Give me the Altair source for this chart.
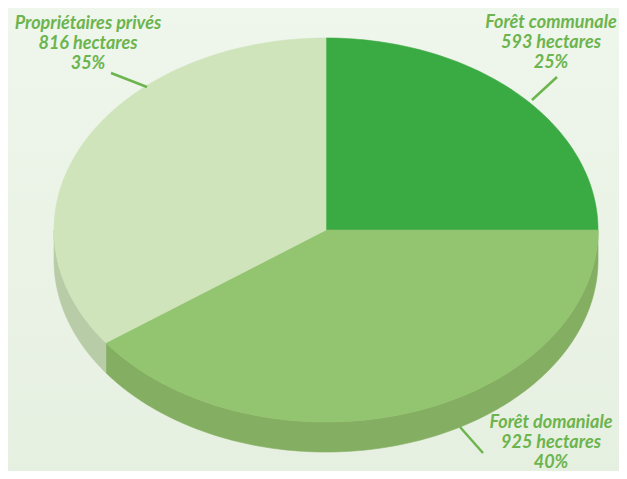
import math
import altair as alt
import pandas as pd

# ---- data ----
categories = ["Forêt communale", "Forêt domaniale", "Propriétaires privés"]
hectares = [593, 925, 816]
percents = [25, 40, 35]
top_colors = ["#3aaa42", "#93c46f", "#cfe4bb"]
side_colors = ["#2f8a36", "#84ae62", "#b8cca8"]

# label layout (page pixel coordinates)
label_x = [551, 551, 88]
label_y = [28, 428, 29]
leader_x1 = [557, 460, 111]
leader_y1 = [77, 427, 73]
leader_x2 = [532, 483, 147]
leader_y2 = [100, 453, 87]

# ---- geometry of the tilted pie ----
CX, CY, RX, RY, DEPTH = 326, 230, 272, 192, 30
W, H = 611, 463


def pt(theta_deg, dy=0.0):
    t = math.radians(theta_deg)
    return CX + RX * math.sin(t), CY - RY * math.cos(t) + dy


def arc(a, b, dy=0.0):
    n = max(2, int(abs(b - a)) + 1)
    return [pt(a + (b - a) * k / (n - 1), dy) for k in range(n)]


total = sum(percents)
bounds = [0.0]
for p in percents:
    bounds.append(bounds[-1] + 360.0 * p / total)

top_rows, wall_rows = [], []
for i, cat in enumerate(categories):
    a, b = bounds[i], bounds[i + 1]
    poly = [(CX, CY)] + arc(a, b) + [(CX, CY)]
    for k, (x, y) in enumerate(poly):
        top_rows.append({"key": cat, "i": k, "x": x, "y": y, "c": top_colors[i]})
    fa, fb = max(a, 90.0), min(b, 270.0)
    if fb > fa:
        poly = arc(fa, fb) + arc(fb, fa, DEPTH)
        poly.append(poly[0])
        for k, (x, y) in enumerate(poly):
            wall_rows.append({"key": cat, "i": k, "x": x, "y": y, "c": side_colors[i]})

top_df = pd.DataFrame(top_rows)
wall_df = pd.DataFrame(wall_rows)

labels_df = pd.DataFrame({
    "txt": [f"{c}\n{h} hectares\n{p}%" for c, h, p in zip(categories, hectares, percents)],
    "x": label_x, "y": label_y,
})
leaders_df = pd.DataFrame({"x": leader_x1, "y": leader_y1, "x2": leader_x2, "y2": leader_y2})

xs = alt.Scale(domain=[8, 8 + W], nice=False, zero=False)
ys = alt.Scale(domain=[8, 8 + H], nice=False, zero=False, reverse=True)

bg = alt.Chart(pd.DataFrame({"a": [0]})).mark_rect(
    color=alt.Gradient(
        gradient="linear",
        stops=[alt.GradientStop(color="#eff6ec", offset=0),
               alt.GradientStop(color="#e6f0e1", offset=1)],
        x1=0, x2=0, y1=0, y2=1,
    )
).encode(x=alt.value(0), x2=alt.value(W), y=alt.value(0), y2=alt.value(H))


def poly_layer(df):
    return alt.Chart(df).mark_line(strokeWidth=0.6, interpolate="linear").encode(
        x=alt.X("x:Q", scale=xs, axis=None),
        y=alt.Y("y:Q", scale=ys, axis=None),
        detail="key:N",
        order="i:Q",
        fill=alt.Fill("c:N", scale=None),
        stroke=alt.Stroke("c:N", scale=None),
    )


walls = poly_layer(wall_df)
tops = poly_layer(top_df)

leaders = alt.Chart(leaders_df).mark_rule(color="#6cb44e", strokeWidth=2.5).encode(
    x=alt.X("x:Q", scale=xs, axis=None), y=alt.Y("y:Q", scale=ys, axis=None),
    x2="x2:Q", y2="y2:Q",
)

labels = alt.Chart(labels_df).mark_text(
    font="Lato", fontStyle="italic", fontWeight="bold", fontSize=18,
    color="#6cb44e", align="center", baseline="alphabetic",
    lineBreak="\n", lineHeight=20,
).encode(
    x=alt.X("x:Q", scale=xs, axis=None), y=alt.Y("y:Q", scale=ys, axis=None),
    text="txt:N",
)

chart = alt.layer(bg, walls, tops, leaders, labels).properties(
    width=W, height=H, padding=0,
    autosize=alt.AutoSizeParams(type="none"),
).configure_view(strokeWidth=0, clip=True)

chart.save("out.html", embed_options={"renderer": "svg", "actions": False})
